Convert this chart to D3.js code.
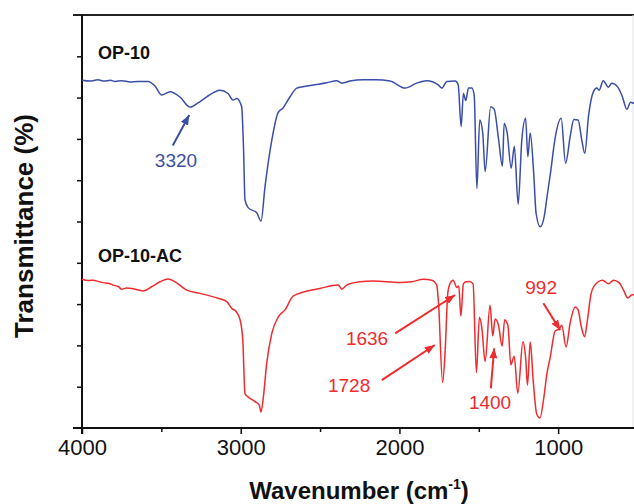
<!DOCTYPE html>
<html>
<head>
<meta charset="utf-8">
<script src="https://cdn.jsdelivr.net/npm/d3@7"></script>
<style>
html,body{margin:0;padding:0;background:#fff;}
svg{display:block;font-family:"Liberation Sans",Arial,sans-serif;}
</style>
</head>
<body>
<svg id="chart" width="634" height="504"></svg>
<script>
// ---- data (wavenumber cm^-1, transmittance a.u.) ----
const wnOP10 = [4000,3950,3900,3860,3820,3792,3750,3697,3650,3584,3540,3498,3445,3382,3319,3269,3214,3130,3080,3048,3025,2994,2982,2973,2952,2899,2872,2847,2804,2765,2733,2689,2647,2550,2458,2395,2363,2311,2229,2150,2059,1964,1891,1828,1756,1733,1701,1649,1630,1611,1597,1582,1565,1544,1529,1512,1494,1475,1460,1425,1403,1376,1351,1340,1321,1296,1276,1252,1229,1205,1191,1176,1154,1139,1113,1085,1071,1047,1019,981,953,924,901,874,851,832,809,778,756,742,716,683,662,625,597,567,543,521,500];
const trOP10 = [84.2,84.0,84.3,84.0,84.2,83.9,84.1,83.8,83.9,83.9,82.8,80.6,81.4,80.1,77.7,78.7,80.2,81.8,81.0,79.4,79.8,77.8,67.3,55.2,53.3,52.1,50.1,58.4,69.7,76.3,77.5,80.2,82.3,83.0,83.6,84.1,83.5,84.0,84.3,84.3,84.0,82.3,83.5,84.1,83.1,82.3,83.9,84.0,83.1,73.0,81.0,79.3,82.3,82.3,80.6,58.0,74.6,71.4,62.1,77.8,77.2,70.1,63.4,73.8,71.4,62.9,68.2,54.2,69.7,75.0,65.7,71.4,61.7,52.0,48.7,51.8,55.7,62.1,70.2,75.0,64.1,70.6,74.7,74.6,69.7,66.5,75.4,81.4,82.3,81.8,84.1,82.5,83.5,82.6,80.4,77.2,78.9,78.6,78.8];

const wnAC = [4000,3960,3929,3900,3866,3830,3803,3770,3750,3720,3687,3645,3614,3561,3508,3456,3414,3340,3256,3151,3088,3057,3029,3004,2987,2973,2956,2910,2884,2872,2857,2836,2804,2763,2721,2668,2500,2385,2363,2332,2248,2166,1996,1922,1849,1796,1765,1754,1728,1712,1695,1681,1662,1638,1626,1613,1597,1580,1558,1536,1515,1496,1481,1460,1429,1412,1397,1376,1353,1337,1316,1298,1277,1254,1222,1205,1193,1176,1156,1135,1115,1090,1071,1050,1019,994,977,950,924,893,874,855,833,817,793,773,720,683,651,616,588,562,537,521,500];
const trAC = [36.0,35.7,35.8,35.5,35.2,35.0,34.6,34.2,33.6,33.9,33.8,33.4,33.2,34.2,35.4,36.1,35.4,33.4,32.6,31.5,30.6,29.0,28.2,26.2,21.3,8.3,7.6,6.4,5.6,3.9,7.6,15.7,22.9,26.9,28.6,32.0,33.8,34.6,33.6,34.6,35.4,35.6,35.2,35.4,36.0,35.8,34.6,30.4,11.0,18.6,32.8,35.0,35.8,34.0,34.4,27.1,34.9,35.4,35.5,34.9,13.4,26.8,24.3,16.1,29.7,22.3,26.4,24.9,19.8,26.2,24.7,15.3,17.4,8.4,20.9,17.1,10.4,20.8,10.9,3.4,2.4,7.4,13.1,17.1,23.5,24.0,24.9,19.6,25.5,29.3,28.6,24.7,22.1,25.7,32.4,34.4,35.8,34.9,35.8,35.2,33.4,31.5,32.2,32.3,32.5];

const xMajorTicks = [4000,3000,2000,1000];
const xMinorTicks = [3500,2500,1500,500];
const yTicks = [10,20,30,40,50,60,70,80,90];

const seriesNames = ["OP-10","OP-10-AC"];
const seriesLabelPos = [[3899,89.3],[3899,40.3]];

// peak annotations: label, label pos (wn, tr), arrow tail, arrow head, series index
const peakLabels = ["3320","1636","1728","1400","992"];
const peakLabelPos = [[3408,63.3],[2204,20.1],[2317,8.7],[1429,4.6],[1107,32.4]];
const peakArrowTail = [[3428,68.4],[2027,22.9],[2111,11.6],[1424,9.6],[1093,30.2]];
const peakArrowHead = [[3324,75.8],[1649,32.2],[1777,20.1],[1403,19.3],[987,23.7]];
const peakSeries = [0,1,1,1,1];

const colors = ["#3b4ea6","#ee2b2e"];

// ---- chart ----
const svg = d3.select("#chart");
const x = d3.scaleLinear().domain([4000,500]).range([82,637.5]);
const y = d3.scaleLinear().domain([0,100]).range([428,15]);

const defs = svg.append("defs");
colors.forEach((c,i)=>{
  defs.append("marker").attr("id","arr"+i)
    .attr("markerUnits","userSpaceOnUse")
    .attr("viewBox","0 0 10 8").attr("refX",10).attr("refY",4)
    .attr("markerWidth",10).attr("markerHeight",8).attr("orient","auto")
    .append("path").attr("d","M0,0 L10,4 L0,8 Z").attr("fill",c);
});

// frame lines
svg.append("line").attr("x1",73).attr("x2",640).attr("y1",y(100)).attr("y2",y(100))
  .attr("stroke","#222").attr("stroke-width",2);
svg.append("line").attr("x1",633).attr("x2",633).attr("y1",y(100)).attr("y2",y(0))
  .attr("stroke","#e4e4e4").attr("stroke-width",1);

// x axis
const xAxis = svg.append("g").attr("transform",`translate(0,${y(0)})`)
  .call(d3.axisBottom(x).tickValues(xMajorTicks).tickSize(6).tickPadding(5).tickFormat(d3.format("d")));
xAxis.select(".domain").remove();
xAxis.selectAll("text").attr("font-size",22).attr("fill","#111").attr("font-family","Liberation Sans, Arial, sans-serif");
xAxis.selectAll("line").attr("stroke","#111").attr("stroke-width",1.5);
const xMinor = svg.append("g").attr("transform",`translate(0,${y(0)})`)
  .call(d3.axisBottom(x).tickValues(xMinorTicks).tickSize(4).tickFormat(""));
xMinor.select(".domain").remove();
xMinor.selectAll("line").attr("stroke","#111").attr("stroke-width",1.5);
svg.append("line").attr("x1",73).attr("x2",640).attr("y1",y(0)).attr("y2",y(0))
  .attr("stroke","#111").attr("stroke-width",2);

// y axis
const yAxis = svg.append("g").attr("transform",`translate(${x(4000)},0)`)
  .call(d3.axisLeft(y).tickValues(yTicks).tickSize(5).tickFormat(""));
yAxis.select(".domain").remove();
yAxis.selectAll("line").attr("stroke","#111").attr("stroke-width",1.5);
svg.append("line").attr("x1",x(4000)).attr("x2",x(4000)).attr("y1",y(100)).attr("y2",y(0)+6)
  .attr("stroke","#111").attr("stroke-width",2);

// series
const line = d3.line().x(d=>x(d[0])).y(d=>y(d[1])).curve(d3.curveMonotoneX);
const seriesData = [d3.zip(wnOP10,trOP10), d3.zip(wnAC,trAC)];
seriesData.forEach((s,i)=>{
  svg.append("path").datum(s).attr("d",line)
    .attr("fill","none").attr("stroke",colors[i]).attr("stroke-width",1.5)
    .attr("stroke-linejoin","round");
});

// series labels
seriesNames.forEach((n,i)=>{
  svg.append("text").attr("x",x(seriesLabelPos[i][0])).attr("y",y(seriesLabelPos[i][1]))
    .attr("font-size",18).attr("font-weight","bold").attr("fill","#111").text(n);
});

// peak annotations
peakLabels.forEach((lab,i)=>{
  const c = colors[peakSeries[i]];
  svg.append("text").attr("x",x(peakLabelPos[i][0])).attr("y",y(peakLabelPos[i][1]))
    .attr("text-anchor","middle").attr("font-size",19).attr("fill",c).text(lab);
  svg.append("line")
    .attr("x1",x(peakArrowTail[i][0])).attr("y1",y(peakArrowTail[i][1]))
    .attr("x2",x(peakArrowHead[i][0])).attr("y2",y(peakArrowHead[i][1]))
    .attr("stroke",c).attr("stroke-width",2)
    .attr("marker-end",`url(#arr${peakSeries[i]})`);
});

// axis titles
svg.append("text").attr("x",359).attr("y",499).attr("text-anchor","middle")
  .attr("font-size",24).attr("font-weight","bold").attr("fill","#111")
  .call(t=>{
    t.append("tspan").text("Wavenumber (cm");
    t.append("tspan").attr("font-size",14).attr("dy",-10).text("-1");
    t.append("tspan").attr("dy",10).text(")");
  });
svg.append("text").attr("transform","translate(33,226) rotate(-90)")
  .attr("text-anchor","middle").attr("font-size",26).attr("font-weight","bold").attr("fill","#111")
  .text("Transmittance (%)");
</script>
</body>
</html>
